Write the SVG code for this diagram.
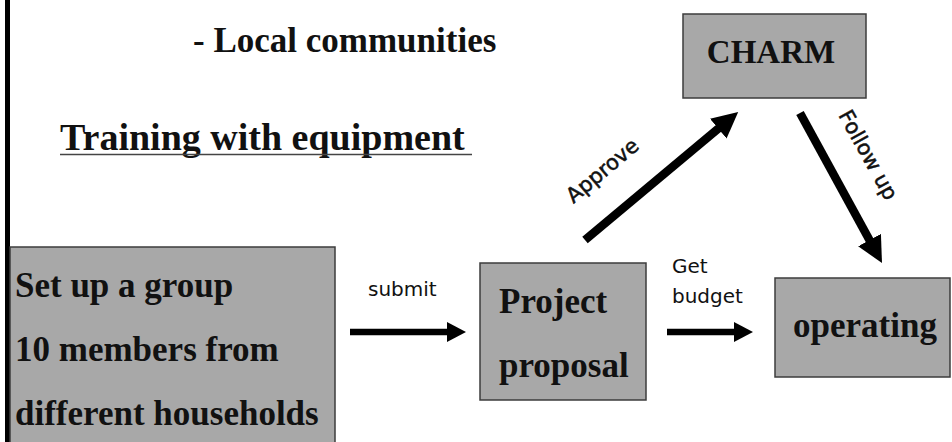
<svg xmlns="http://www.w3.org/2000/svg" width="952" height="442" viewBox="0 0 952 442">
  <defs>
    <style>
      .box { fill: #a8a8a8; stroke: #3c3c3c; stroke-width: 1.5; }
      .serif { font-family: "Liberation Serif", "Times New Roman", serif; font-weight: bold; fill: #111; }
      .big { font-size: 35px; }
      .sans { font-family: "DejaVu Sans", Verdana, sans-serif; font-size: 20px; fill: #111; }
      .heavy { font-size: 21px; stroke: #111; stroke-width: 0.5; }
      .shaft { stroke: #000; fill: none; stroke-linecap: butt; }
      .thin { stroke-width: 6.5; }
      .thick { stroke-width: 8.5; }
    </style>
    <marker id="head-s" viewBox="0 -10 19 20" refX="1" refY="0" markerWidth="19" markerHeight="20" markerUnits="userSpaceOnUse" orient="auto">
      <path d="M0,-10 L19,0 L0,10 Z" fill="#000"/>
    </marker>
    <marker id="head-l" viewBox="0 -13 26 26" refX="1" refY="0" markerWidth="26" markerHeight="26" markerUnits="userSpaceOnUse" orient="auto">
      <path d="M0,-13 L26,0 L0,13 Z" fill="#000"/>
    </marker>
  </defs>

  <rect x="0" y="0" width="952" height="442" fill="#fff"/>

  <!-- left margin rule -->
  <rect x="5" y="0" width="5" height="442" fill="#000"/>

  <!-- headings -->
  <g id="heading">
    <text class="serif big" x="193" y="52">- Local communities</text>
    <text class="serif" x="60" y="150" font-size="38">Training with equipment</text>
    <line x1="60" y1="154.5" x2="472" y2="154.5" stroke="#444" stroke-width="1.5"/>
  </g>

  <!-- nodes -->
  <g id="node-group">
    <rect class="box" x="10" y="247" width="325" height="200"/>
    <text class="serif big" x="15" y="297">Set up a group</text>
    <text class="serif big" x="15" y="361">10 members from</text>
    <text class="serif big" x="15" y="425">different households</text>
  </g>

  <g id="node-proposal">
    <rect class="box" x="480" y="263" width="166" height="137"/>
    <text class="serif big" x="499" y="313">Project</text>
    <text class="serif big" x="499" y="377">proposal</text>
  </g>

  <g id="node-charm">
    <rect class="box" x="683" y="14" width="183" height="84"/>
    <text class="serif" x="771" y="63" font-size="33" text-anchor="middle">CHARM</text>
  </g>

  <g id="node-operating">
    <rect class="box" x="775" y="278" width="175" height="99"/>
    <text class="serif big" x="865" y="337" text-anchor="middle">operating</text>
  </g>

  <!-- connectors -->
  <g id="connectors">
    <line class="shaft thin" x1="350" y1="332" x2="448" y2="332" marker-end="url(#head-s)"/>
    <text class="sans" x="368" y="296">submit</text>

    <line class="shaft thin" x1="667" y1="332" x2="735" y2="332" marker-end="url(#head-s)"/>
    <text class="sans" x="672" y="273">Get</text>
    <text class="sans" x="672" y="303">budget</text>

    <line class="shaft thick" x1="585" y1="240" x2="719" y2="128" marker-end="url(#head-l)"/>
    <text class="sans heavy" transform="translate(607,176) rotate(-40)" text-anchor="middle">Approve</text>

    <line class="shaft thick" x1="800" y1="113" x2="870" y2="241" marker-end="url(#head-l)"/>
    <text class="sans heavy" transform="translate(838,115) rotate(61)">Follow up</text>
  </g>
</svg>
